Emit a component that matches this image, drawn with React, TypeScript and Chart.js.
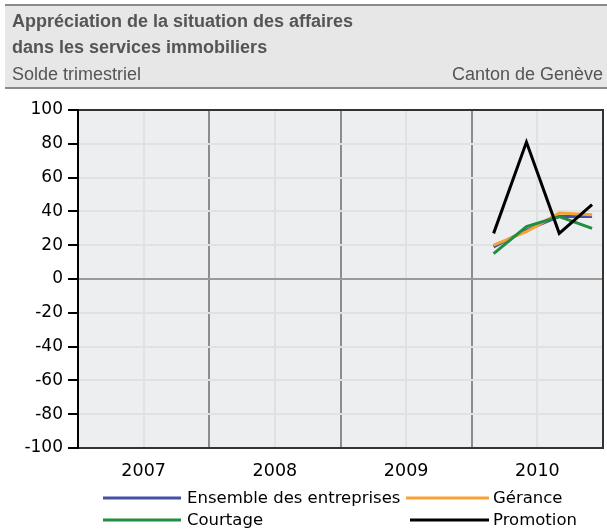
import React, { useEffect, useRef } from "react";
import { Chart, registerables } from "chart.js";

Chart.register(...registerables);

const title1 = "Appréciation de la situation des affaires";
const title2 = "dans les services immobiliers";
const subtitleLeft = "Solde trimestriel";
const subtitleRight = "Canton de Genève";

const years = [2007, 2008, 2009, 2010];
// quarters with data (year, quarter)
const quarterYears = [2010, 2010, 2010, 2010];
const quarterNums = [1, 2, 3, 4];

const ensembleValues = [19, 29, 37, 37];
const geranceValues = [20, 28, 39, 38];
const courtageValues = [15, 31, 37, 30];
const promotionValues = [27, 81, 27, 44];

const yTicks = [100, 80, 60, 40, 20, 0, -20, -40, -60, -80, -100];

const seriesNames = ["Ensemble des entreprises", "Gérance", "Courtage", "Promotion"];
const seriesColors = ["#4450a6", "#f7a234", "#1f8e40", "#000000"];

const FONT_SANS = "'DejaVu Sans', sans-serif";
const FONT_HEAD = "'Liberation Sans', Arial, sans-serif";

function toPoints(values: number[]) {
  return values.map((v, i) => ({
    x: quarterYears[i] + (3 * quarterNums[i] - 1) / 12,
    y: v,
  }));
}

export default function App() {
  const ref = useRef<HTMLCanvasElement>(null);

  useEffect(() => {
    document.body.style.margin = "0";
    const canvas = ref.current!;
    const decor = {
      id: "decor",
      beforeDraw(chart: any) {
        const { ctx, chartArea: a } = chart;
        ctx.save();
        ctx.fillStyle = "#ffffff";
        ctx.fillRect(0, 0, chart.width, chart.height);
        // header
        ctx.fillStyle = "#e7e7e7";
        ctx.fillRect(5, 5, chart.width - 5, 83);
        ctx.strokeStyle = "#8a8a8a";
        ctx.lineWidth = 2;
        ctx.beginPath();
        ctx.moveTo(5, 5);
        ctx.lineTo(chart.width, 5);
        ctx.moveTo(5, 88);
        ctx.lineTo(chart.width, 88);
        ctx.stroke();
        ctx.fillStyle = "#555555";
        ctx.textBaseline = "middle";
        ctx.textAlign = "left";
        ctx.font = "bold 18px " + FONT_HEAD;
        ctx.fillText(title1, 12, 22);
        ctx.fillText(title2, 12, 48);
        ctx.font = "18px " + FONT_HEAD;
        ctx.fillText(subtitleLeft, 12, 75);
        ctx.textAlign = "right";
        ctx.fillText(subtitleRight, 603, 75);
        // plot background
        ctx.fillStyle = "#edeef0";
        ctx.fillRect(a.left, a.top, a.right - a.left, a.bottom - a.top);
        ctx.restore();
      },
      afterDraw(chart: any) {
        const { ctx, chartArea: a } = chart;
        ctx.save();
        ctx.lineWidth = 2;
        ctx.strokeStyle = "#333333";
        ctx.beginPath();
        ctx.moveTo(a.left, a.top);
        ctx.lineTo(a.right, a.top);
        ctx.lineTo(a.right, a.bottom);
        ctx.lineTo(a.left, a.bottom);
        ctx.stroke();
        ctx.strokeStyle = "#000000";
        ctx.beginPath();
        ctx.moveTo(a.left, a.top - 1);
        ctx.lineTo(a.left, a.bottom + 1);
        ctx.stroke();
        // legend
        const items = [
          { i: 0, x1: 103, x2: 181, tx: 187, y: 498 },
          { i: 1, x1: 406, x2: 489, tx: 493, y: 498 },
          { i: 2, x1: 103, x2: 181, tx: 187, y: 520 },
          { i: 3, x1: 410, x2: 489, tx: 493, y: 520 },
        ];
        ctx.font = "16.5px " + FONT_SANS;
        ctx.textBaseline = "middle";
        ctx.textAlign = "left";
        for (const it of items) {
          ctx.strokeStyle = seriesColors[it.i];
          ctx.lineWidth = 3;
          ctx.beginPath();
          ctx.moveTo(it.x1, it.y);
          ctx.lineTo(it.x2, it.y);
          ctx.stroke();
          ctx.fillStyle = "#000";
          ctx.fillText(seriesNames[it.i], it.tx, it.y + 1);
        }
        ctx.restore();
      },
    };

    const valueSets = [ensembleValues, geranceValues, courtageValues, promotionValues];
    const orders = [3, 2, 1, 0];

    const chart = new Chart(canvas, {
      type: "line",
      data: {
        datasets: valueSets.map((vals, i) => ({
          label: seriesNames[i],
          data: toPoints(vals),
          borderColor: seriesColors[i],
          backgroundColor: seriesColors[i],
          borderWidth: 3,
          pointRadius: 0,
          tension: 0,
          order: orders[i],
        })),
      },
      options: {
        responsive: false,
        animation: false,
        devicePixelRatio: 1,
        layout: { padding: { top: 110, right: 4, bottom: 43, left: 0 } },
        plugins: { legend: { display: false }, tooltip: { enabled: false } },
        scales: {
          x: {
            type: "linear",
            min: years[0],
            max: years[years.length - 1] + 1,
            afterBuildTicks: (scale: any) => {
              const t: any[] = [];
              for (let y = years[0]; y <= years[years.length - 1] + 1; y += 0.5) t.push({ value: y });
              scale.ticks = t;
            },
            afterFit: (scale: any) => {
              scale.height = 40;
              scale.paddingLeft = 0;
              scale.paddingRight = 0;
            },
            ticks: {
              autoSkip: false,
              maxRotation: 0,
              padding: 13,
              color: "#000",
              font: { family: FONT_SANS, size: 17.5 },
              callback: (v: any) => (Math.abs(v - Math.floor(v) - 0.5) < 0.01 ? String(Math.floor(v)) : ""),
            },
            grid: {
              drawTicks: false,
              lineWidth: 2,
              color: (c: any) => {
                const v = c.tick ? c.tick.value : 0;
                if (v <= years[0] || v >= years[years.length - 1] + 1) return "rgba(0,0,0,0)";
                if (Math.abs(v - Math.round(v)) < 0.01) return "#8c8c8c";
                return "#e0e1e3";
              },
            },
            border: { display: false },
          },
          y: {
            min: -100,
            max: 100,
            afterBuildTicks: (scale: any) => {
              scale.ticks = yTicks.map((v) => ({ value: v }));
            },
            afterFit: (scale: any) => {
              scale.width = 78;
              scale.paddingTop = 0;
              scale.paddingBottom = 0;
            },
            ticks: {
              padding: 5,
              color: "#000",
              font: { family: FONT_SANS, size: 17 },
            },
            grid: {
              tickLength: 10,
              tickColor: "#000",
              tickWidth: 2,
              lineWidth: 2,
              color: (c: any) => (c.tick && c.tick.value === 0 ? "#9a9a9a" : "#e0e1e3"),
            },
            border: { display: false },
          },
        },
      },
      plugins: [decor],
    });
    return () => chart.destroy();
  }, []);

  return <canvas ref={ref} width={607} height={531} style={{ display: "block" }} />;
}
